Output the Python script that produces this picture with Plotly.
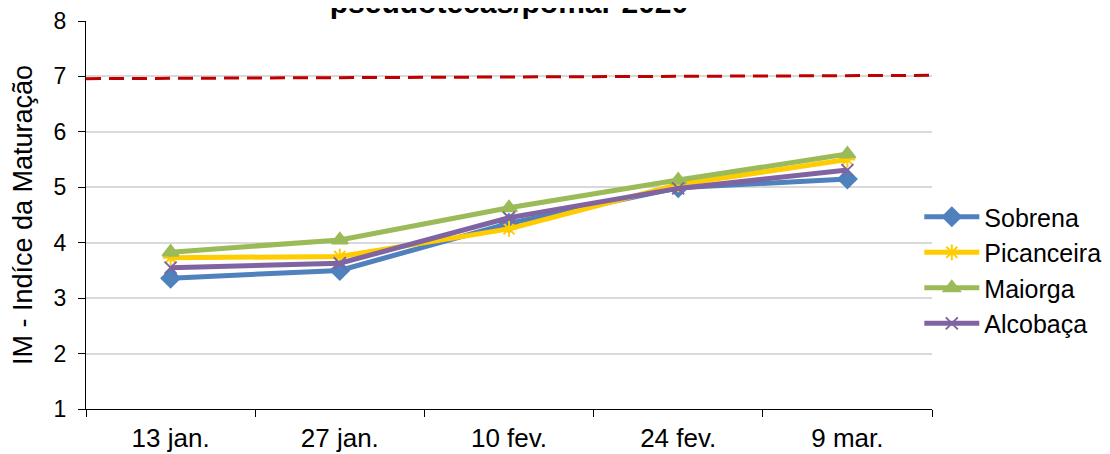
import plotly.graph_objects as go

categories = ["13 jan.", "27 jan.", "10 fev.", "24 fev.", "9 mar."]
sobrena = [3.36, 3.50, 4.35, 4.99, 5.15]
picanceira = [3.73, 3.75, 4.25, 5.05, 5.50]
maiorga = [3.83, 4.05, 4.63, 5.13, 5.60]
alcobaca = [3.55, 3.63, 4.45, 4.98, 5.31]
threshold = [6.96, 7.02]
y_ticks = [1, 2, 3, 4, 5, 6, 7, 8]

series = [
    ("Sobrena", sobrena, "#4F81BD", "diamond", 14),
    ("Picanceira", picanceira, "#FFCC00", "asterisk-open", 13),
    ("Maiorga", maiorga, "#9BBB59", "triangle-up", 14),
    ("Alcobaça", alcobaca, "#8064A2", "x-thin-open", 12),
]

fig = go.Figure()
for name, vals, color, sym, size in series:
    fig.add_trace(go.Scatter(
        x=categories, y=vals, name=name, mode="lines+markers",
        line=dict(color=color, width=5),
        marker=dict(symbol=sym, size=size, color=color,
                    line=dict(color=color, width=2)),
    ))

fig.add_shape(type="line", xref="paper", yref="y", x0=0, x1=1,
              y0=threshold[0], y1=threshold[1],
              line=dict(color="#C00000", width=3, dash="15px,8px"))

font = "Liberation Sans, Arial, sans-serif"
fig.update_layout(
    width=1110, height=454,
    paper_bgcolor="white", plot_bgcolor="white",
    margin=dict(l=78, r=183, t=13, b=53),
    font=dict(family=font, size=24, color="black"),
    title=dict(text="<b>pseudotecas/pomar 2020</b>", x=0.5, xref="paper",
               y=0.989, yref="container", yanchor="bottom",
               font=dict(size=30, family=font, color="black")),
    legend=dict(x=0.985, y=0.358, xanchor="left", yanchor="middle",
                font=dict(size=25, family=font), tracegroupgap=0,
                itemwidth=55, bgcolor="rgba(0,0,0,0)"),
    xaxis=dict(showline=True, linecolor="black", linewidth=1,
               ticks="outside", ticklen=7, tickcolor="black",
               tickson="boundaries", showgrid=False, automargin=False,
               ticklabelstandoff=6,
               tickfont=dict(size=26), range=[-0.5, 4.5]),
    yaxis=dict(range=[1, 8], tickvals=y_ticks, showline=True,
               linecolor="black", linewidth=1, ticks="outside",
               ticklen=7, tickcolor="black", gridcolor="#D9D9D9",
               gridwidth=2, zeroline=False, automargin=False,
               ticklabelstandoff=7,
               title=dict(text="IM - Indíce da Maturação",
                          font=dict(size=27), standoff=16),
               tickfont=dict(size=23)),
)
fig.write_html("out.html")
